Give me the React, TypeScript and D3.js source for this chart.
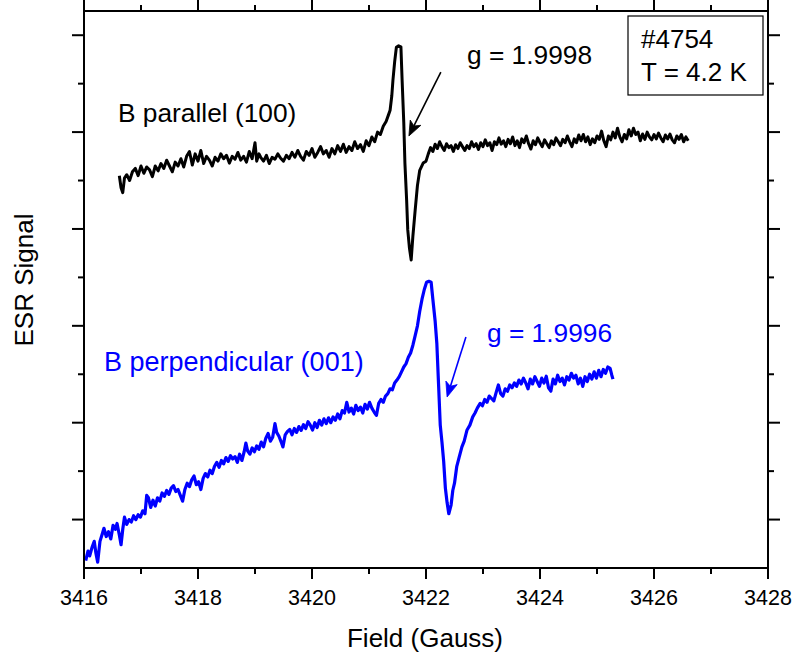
import React from "react";
import * as d3 from "d3";

// ---------- data ----------
const fieldTicks = [3416, 3418, 3420, 3422, 3424, 3426, 3428];
const fieldMinorTicks = [3417, 3419, 3421, 3423, 3425, 3427];
const signalMajorTicks = [1, 3, 5, 7, 9, 11];
const signalMinorTicks = [2, 4, 6, 8, 10];

// B parallel (100): [field (G), signal (a.u.)]
const parallelData: [number, number][] = [
  [3416.62, 8.1], [3416.65, 7.85], [3416.68, 7.75], [3416.71, 8.05], [3416.75, 8.12], [3416.8, 8.0],
  [3416.85, 8.18], [3416.9, 8.25], [3416.95, 8.1], [3417.0, 8.3], [3417.05, 8.15], [3417.1, 8.28],
  [3417.15, 8.22], [3417.2, 8.08], [3417.25, 8.3], [3417.3, 8.2], [3417.35, 8.35], [3417.4, 8.25],
  [3417.45, 8.42], [3417.5, 8.3], [3417.55, 8.18], [3417.6, 8.38], [3417.65, 8.3], [3417.7, 8.45],
  [3417.75, 8.28], [3417.8, 8.5], [3417.85, 8.6], [3417.9, 8.32], [3417.95, 8.55], [3418.0, 8.4],
  [3418.05, 8.62], [3418.1, 8.35], [3418.15, 8.5], [3418.2, 8.42], [3418.25, 8.3], [3418.3, 8.48],
  [3418.35, 8.4], [3418.4, 8.55], [3418.45, 8.45], [3418.5, 8.52], [3418.55, 8.36], [3418.6, 8.5],
  [3418.65, 8.44], [3418.7, 8.58], [3418.75, 8.42], [3418.8, 8.5], [3418.85, 8.38], [3418.9, 8.6],
  [3418.95, 8.45], [3419.0, 8.78], [3419.03, 8.4], [3419.07, 8.55], [3419.1, 8.48], [3419.15, 8.4],
  [3419.2, 8.52], [3419.25, 8.35], [3419.3, 8.48], [3419.35, 8.44], [3419.4, 8.55], [3419.45, 8.46],
  [3419.5, 8.4], [3419.55, 8.52], [3419.6, 8.45], [3419.65, 8.58], [3419.7, 8.48], [3419.75, 8.62],
  [3419.8, 8.5], [3419.85, 8.42], [3419.9, 8.6], [3419.95, 8.52], [3420.0, 8.66], [3420.05, 8.48],
  [3420.1, 8.58], [3420.15, 8.7], [3420.2, 8.55], [3420.25, 8.62], [3420.3, 8.48], [3420.35, 8.66],
  [3420.4, 8.55], [3420.45, 8.72], [3420.5, 8.6], [3420.55, 8.75], [3420.6, 8.58], [3420.65, 8.7],
  [3420.7, 8.62], [3420.75, 8.8], [3420.8, 8.66], [3420.85, 8.74], [3420.9, 8.6], [3420.95, 8.82],
  [3421.0, 8.72], [3421.05, 8.9], [3421.1, 8.8], [3421.15, 9.0], [3421.2, 8.95], [3421.25, 9.12],
  [3421.3, 9.22], [3421.34, 9.35], [3421.37, 9.45], [3421.4, 9.75], [3421.42, 10.07], [3421.45, 10.45],
  [3421.48, 10.75], [3421.52, 10.78], [3421.56, 10.76], [3421.58, 10.1], [3421.61, 9.2], [3421.63, 8.36],
  [3421.66, 7.6], [3421.68, 6.98], [3421.71, 6.6], [3421.74, 6.36], [3421.77, 6.85], [3421.81, 7.39],
  [3421.85, 7.9], [3421.89, 8.21], [3421.95, 8.36], [3422.0, 8.4], [3422.04, 8.55], [3422.08, 8.68],
  [3422.12, 8.6], [3422.16, 8.75], [3422.2, 8.66], [3422.24, 8.8], [3422.28, 8.7], [3422.32, 8.62],
  [3422.36, 8.76], [3422.4, 8.68], [3422.44, 8.72], [3422.48, 8.6], [3422.52, 8.74], [3422.56, 8.66],
  [3422.6, 8.78], [3422.64, 8.7], [3422.68, 8.62], [3422.72, 8.72], [3422.76, 8.66], [3422.8, 8.8],
  [3422.84, 8.7], [3422.88, 8.76], [3422.92, 8.64], [3422.96, 8.78], [3423.0, 8.7], [3423.04, 8.84],
  [3423.08, 8.72], [3423.12, 8.78], [3423.16, 8.62], [3423.2, 8.8], [3423.24, 8.74], [3423.28, 8.88],
  [3423.32, 8.75], [3423.36, 8.82], [3423.4, 8.7], [3423.44, 8.85], [3423.48, 8.76], [3423.52, 8.9],
  [3423.56, 8.72], [3423.6, 8.82], [3423.64, 8.68], [3423.68, 8.86], [3423.72, 8.78], [3423.76, 8.92],
  [3423.8, 8.76], [3423.84, 8.65], [3423.88, 8.82], [3423.92, 8.74], [3423.96, 8.88], [3424.0, 8.78],
  [3424.04, 8.7], [3424.08, 8.84], [3424.12, 8.76], [3424.16, 8.68], [3424.2, 8.82], [3424.24, 8.74],
  [3424.28, 8.88], [3424.32, 8.8], [3424.36, 8.72], [3424.4, 8.85], [3424.44, 8.78], [3424.48, 8.92],
  [3424.52, 8.8], [3424.56, 8.7], [3424.6, 8.86], [3424.64, 8.78], [3424.68, 8.94], [3424.72, 8.82],
  [3424.76, 8.95], [3424.8, 8.8], [3424.84, 8.9], [3424.88, 8.74], [3424.92, 8.86], [3424.96, 8.78],
  [3425.0, 8.92], [3425.04, 8.85], [3425.08, 9.02], [3425.12, 8.82], [3425.16, 8.7], [3425.2, 8.92],
  [3425.24, 8.84], [3425.28, 9.0], [3425.32, 8.88], [3425.36, 9.08], [3425.4, 8.9], [3425.44, 8.8],
  [3425.48, 8.95], [3425.52, 8.86], [3425.56, 9.05], [3425.6, 8.92], [3425.64, 9.08], [3425.68, 8.95],
  [3425.72, 9.0], [3425.76, 8.82], [3425.8, 8.96], [3425.84, 8.85], [3425.88, 9.0], [3425.92, 8.9],
  [3425.96, 8.84], [3426.0, 8.95], [3426.04, 8.86], [3426.08, 8.98], [3426.12, 8.88], [3426.16, 8.8],
  [3426.2, 8.94], [3426.24, 8.86], [3426.28, 8.96], [3426.32, 8.84], [3426.36, 8.78], [3426.4, 8.92],
  [3426.44, 8.85], [3426.48, 8.95], [3426.52, 8.8], [3426.56, 8.9], [3426.6, 8.82],
];

// B perpendicular (001): [field (G), signal (a.u.)]
const perpendicularData: [number, number][] = [
  [3416.03, 0.15], [3416.07, 0.35], [3416.1, 0.25], [3416.14, 0.42], [3416.18, 0.55], [3416.21, 0.3],
  [3416.24, 0.12], [3416.28, 0.55], [3416.32, 0.7], [3416.35, 0.82], [3416.39, 0.65], [3416.43, 0.75],
  [3416.47, 0.6], [3416.51, 0.88], [3416.55, 0.8], [3416.58, 0.92], [3416.62, 0.68], [3416.65, 0.48],
  [3416.68, 0.8], [3416.71, 1.05], [3416.75, 0.9], [3416.79, 1.0], [3416.83, 0.95], [3416.87, 1.08],
  [3416.91, 1.0], [3416.95, 1.1], [3416.99, 1.05], [3417.03, 1.18], [3417.07, 1.12], [3417.1, 1.5],
  [3417.13, 1.45], [3417.17, 1.25], [3417.21, 1.4], [3417.25, 1.28], [3417.29, 1.45], [3417.33, 1.38],
  [3417.37, 1.55], [3417.41, 1.48], [3417.45, 1.6], [3417.49, 1.52], [3417.53, 1.65], [3417.57, 1.7],
  [3417.61, 1.58], [3417.65, 1.62], [3417.69, 1.5], [3417.73, 1.38], [3417.77, 1.62], [3417.81, 1.75],
  [3417.85, 1.68], [3417.89, 1.82], [3417.93, 1.9], [3417.97, 1.72], [3418.01, 1.78], [3418.05, 1.62],
  [3418.09, 1.85], [3418.13, 1.95], [3418.17, 1.88], [3418.21, 2.02], [3418.25, 1.95], [3418.29, 2.1],
  [3418.33, 2.18], [3418.37, 2.08], [3418.41, 2.22], [3418.45, 2.15], [3418.49, 2.28], [3418.53, 2.2],
  [3418.57, 2.32], [3418.61, 2.25], [3418.65, 2.3], [3418.69, 2.18], [3418.73, 2.35], [3418.77, 2.22],
  [3418.81, 2.4], [3418.84, 2.58], [3418.87, 2.42], [3418.91, 2.35], [3418.95, 2.48], [3418.99, 2.4],
  [3419.03, 2.52], [3419.07, 2.45], [3419.11, 2.6], [3419.15, 2.5], [3419.19, 2.68], [3419.23, 2.78],
  [3419.27, 2.62], [3419.31, 2.7], [3419.35, 2.98], [3419.38, 2.8], [3419.42, 2.72], [3419.46, 2.6],
  [3419.49, 2.5], [3419.53, 2.75], [3419.57, 2.82], [3419.61, 2.86], [3419.65, 2.75], [3419.69, 2.88],
  [3419.73, 2.8], [3419.77, 2.92], [3419.81, 2.84], [3419.85, 2.96], [3419.89, 2.88], [3419.93, 3.02],
  [3419.97, 2.95], [3420.01, 2.85], [3420.05, 3.0], [3420.09, 2.9], [3420.13, 3.05], [3420.17, 2.95],
  [3420.21, 3.08], [3420.25, 2.98], [3420.29, 3.1], [3420.33, 3.0], [3420.37, 3.12], [3420.41, 3.05],
  [3420.45, 3.18], [3420.49, 3.08], [3420.53, 3.25], [3420.57, 3.2], [3420.61, 3.42], [3420.65, 3.22],
  [3420.69, 3.3], [3420.73, 3.18], [3420.77, 3.36], [3420.81, 3.25], [3420.85, 3.32], [3420.89, 3.2],
  [3420.93, 3.38], [3420.97, 3.28], [3421.01, 3.42], [3421.05, 3.3], [3421.09, 3.22], [3421.13, 3.15],
  [3421.17, 3.4], [3421.21, 3.48], [3421.25, 3.42], [3421.29, 3.55], [3421.33, 3.6], [3421.37, 3.7],
  [3421.41, 3.68], [3421.45, 3.82], [3421.49, 3.88], [3421.53, 3.95], [3421.57, 4.05], [3421.61, 4.15],
  [3421.65, 4.22], [3421.69, 4.35], [3421.73, 4.44], [3421.77, 4.6], [3421.81, 4.8], [3421.85, 5.0],
  [3421.89, 5.3], [3421.93, 5.55], [3421.97, 5.75], [3422.01, 5.9], [3422.05, 5.92], [3422.09, 5.9],
  [3422.12, 5.55], [3422.16, 5.1], [3422.19, 4.64], [3422.22, 3.8], [3422.25, 2.95], [3422.28, 2.6],
  [3422.31, 2.2], [3422.34, 1.65], [3422.37, 1.35], [3422.4, 1.12], [3422.44, 1.3], [3422.47, 1.6],
  [3422.5, 1.75], [3422.54, 2.1], [3422.58, 2.28], [3422.63, 2.5], [3422.67, 2.62], [3422.72, 2.85],
  [3422.77, 2.95], [3422.82, 3.12], [3422.86, 3.2], [3422.9, 3.3], [3422.95, 3.4], [3422.99, 3.35],
  [3423.03, 3.48], [3423.07, 3.42], [3423.11, 3.55], [3423.15, 3.5], [3423.19, 3.45], [3423.23, 3.62],
  [3423.27, 3.78], [3423.31, 3.6], [3423.35, 3.55], [3423.39, 3.7], [3423.43, 3.65], [3423.47, 3.78],
  [3423.51, 3.72], [3423.55, 3.82], [3423.59, 3.75], [3423.63, 3.88], [3423.67, 3.8], [3423.71, 3.92],
  [3423.75, 3.82], [3423.79, 3.7], [3423.83, 3.9], [3423.87, 3.8], [3423.91, 3.95], [3423.95, 3.85],
  [3423.99, 3.75], [3424.03, 3.92], [3424.07, 3.82], [3424.11, 3.96], [3424.15, 3.72], [3424.19, 3.65],
  [3424.23, 3.9], [3424.27, 3.8], [3424.31, 3.98], [3424.35, 3.85], [3424.39, 3.92], [3424.43, 3.78],
  [3424.47, 3.95], [3424.51, 3.88], [3424.55, 4.02], [3424.59, 3.92], [3424.63, 3.98], [3424.67, 3.8],
  [3424.71, 3.92], [3424.75, 3.75], [3424.79, 3.95], [3424.83, 3.85], [3424.87, 4.0], [3424.91, 3.9],
  [3424.95, 4.05], [3424.99, 3.92], [3425.03, 4.08], [3425.07, 3.95], [3425.11, 4.1], [3425.15, 4.02],
  [3425.19, 4.15], [3425.23, 4.12], [3425.26, 3.98], [3425.28, 3.9],
];

// annotation arrows: [fromField, fromSignal, toField, toSignal]
const parallelArrow = [3422.26, 10.24, 3421.7, 8.92];
const perpendicularArrow = [3422.7, 4.77, 3422.37, 3.53];

// ---------- layout ----------
const W = 794;
const H = 658;
const left = 84;
const right = 768;
const top = 11;
const bottom = 568;
const FONT = "'Liberation Sans', Arial, Helvetica, sans-serif";
const BLUE = "#0000ff";

const x = d3.scaleLinear().domain([3416, 3428]).range([left, right]);
const y = d3.scaleLinear().domain([0, 11.5]).range([bottom, top]);

const line = d3
  .line<[number, number]>()
  .x((d) => x(d[0]))
  .y((d) => y(d[1]))
  .curve(d3.curveLinear);

function Arrow({ a, color }: { a: number[]; color: string }) {
  const x1 = x(a[0]);
  const y1 = y(a[1]);
  const x2 = x(a[2]);
  const y2 = y(a[3]);
  const ang = Math.atan2(y2 - y1, x2 - x1);
  const len = 16;
  const spread = 0.38;
  const p1 = [x2 - len * Math.cos(ang - spread), y2 - len * Math.sin(ang - spread)];
  const p2 = [x2 - len * Math.cos(ang + spread), y2 - len * Math.sin(ang + spread)];
  const pm = [x2 - len * 0.7 * Math.cos(ang), y2 - len * 0.7 * Math.sin(ang)];
  return (
    <g>
      <line x1={x1} y1={y1} x2={pm[0]} y2={pm[1]} stroke={color} strokeWidth={1.6} />
      <path
        d={`M${x2},${y2}L${p1[0]},${p1[1]}L${pm[0]},${pm[1]}L${p2[0]},${p2[1]}Z`}
        fill={color}
        stroke={color}
        strokeWidth={0.8}
        strokeLinejoin="miter"
      />
    </g>
  );
}

export default function App() {
  return (
    <svg
      width={W}
      height={H}
      style={{ position: "absolute", left: 0, top: 0, background: "#fff" }}
      fontFamily={FONT}
    >
      <rect x={0} y={0} width={W} height={H} fill="#fff" />

      {/* data */}
      <path d={line(perpendicularData) || ""} fill="none" stroke={BLUE} strokeWidth={3.2} strokeLinejoin="round" />
      <path d={line(parallelData) || ""} fill="none" stroke="#000" strokeWidth={3} strokeLinejoin="round" />

      {/* frame */}
      <rect x={left} y={top} width={right - left} height={bottom - top} fill="none" stroke="#000" strokeWidth={2} />

      {/* x ticks bottom & top */}
      {fieldTicks.map((t) => (
        <g key={"xt" + t}>
          <line x1={x(t)} x2={x(t)} y1={bottom} y2={bottom + 11} stroke="#000" strokeWidth={2} />
          <line x1={x(t)} x2={x(t)} y1={top} y2={top - 11} stroke="#000" strokeWidth={2} />
          <text x={x(t)} y={605} textAnchor="middle" fontSize={21.5} fill="#000">
            {t}
          </text>
        </g>
      ))}
      {fieldMinorTicks.map((t) => (
        <g key={"xm" + t}>
          <line x1={x(t)} x2={x(t)} y1={bottom} y2={bottom + 6} stroke="#000" strokeWidth={2} />
          <line x1={x(t)} x2={x(t)} y1={top} y2={top - 6} stroke="#000" strokeWidth={2} />
        </g>
      ))}

      {/* y ticks left & right */}
      {signalMajorTicks.map((t) => (
        <g key={"yt" + t}>
          <line x1={left} x2={left - 12} y1={y(t)} y2={y(t)} stroke="#000" strokeWidth={2} />
          <line x1={right} x2={right + 12} y1={y(t)} y2={y(t)} stroke="#000" strokeWidth={2} />
        </g>
      ))}
      {signalMinorTicks.map((t) => (
        <g key={"ym" + t}>
          <line x1={left} x2={left - 6} y1={y(t)} y2={y(t)} stroke="#000" strokeWidth={2} />
          <line x1={right} x2={right + 6} y1={y(t)} y2={y(t)} stroke="#000" strokeWidth={2} />
        </g>
      ))}

      {/* axis titles */}
      <text x={425} y={647} textAnchor="middle" fontSize={26} fill="#000">
        Field (Gauss)
      </text>
      <text
        transform={`translate(33,280) rotate(-90)`}
        textAnchor="middle"
        fontSize={26}
        fill="#000"
      >
        ESR Signal
      </text>

      {/* annotations */}
      <text x={118} y={122} fontSize={26.3} fill="#000">
        B parallel (100)
      </text>
      <text x={467} y={64} fontSize={26.3} fill="#000">
        g = 1.9998
      </text>
      <Arrow a={parallelArrow} color="#000" />

      <text x={104} y={371} fontSize={27} fill={BLUE}>
        B perpendicular (001)
      </text>
      <text x={487} y={342} fontSize={26.3} fill={BLUE}>
        g = 1.9996
      </text>
      <Arrow a={perpendicularArrow} color={BLUE} />

      {/* info box */}
      <rect x={628} y={16} width={135} height={79} fill="#fff" stroke="#000" strokeWidth={1.2} />
      <text x={641} y={48} fontSize={26} fill="#000">
        #4754
      </text>
      <text x={641} y={81} fontSize={26} fill="#000">
        T = 4.2 K
      </text>
    </svg>
  );
}
